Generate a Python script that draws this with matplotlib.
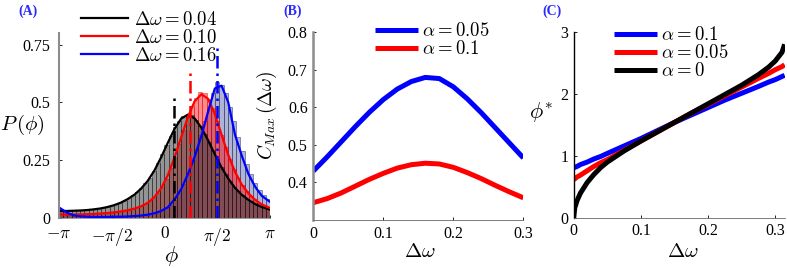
import numpy as np
import matplotlib
matplotlib.use('Agg')
import matplotlib.pyplot as plt

plt.rcParams['mathtext.fontset'] = 'cm'
plt.rcParams['font.family'] = ['Liberation Serif', 'DejaVu Serif']

# ---------------- Panel A data ----------------
n_bins = 50
black_hist = [0.031, 0.032, 0.031, 0.033, 0.033, 0.035, 0.035, 0.037, 0.039, 0.041,
              0.045, 0.048, 0.053, 0.058, 0.066, 0.074, 0.085, 0.097, 0.111, 0.129,
              0.150, 0.174, 0.203, 0.237, 0.276, 0.314, 0.355, 0.392, 0.420, 0.440,
              0.450, 0.443, 0.425, 0.398, 0.365, 0.330, 0.292, 0.255, 0.220, 0.188,
              0.160, 0.135, 0.115, 0.097, 0.083, 0.071, 0.060, 0.052, 0.045, 0.040]
red_hist = [0.015, 0.015, 0.014, 0.015, 0.015, 0.016, 0.016, 0.017, 0.018, 0.019,
            0.020, 0.022, 0.023, 0.026, 0.028, 0.031, 0.035, 0.039, 0.045, 0.051,
            0.060, 0.072, 0.088, 0.108, 0.135, 0.170, 0.215, 0.265, 0.320, 0.380,
            0.440, 0.485, 0.520, 0.545, 0.540, 0.515, 0.475, 0.420, 0.360, 0.305,
            0.255, 0.210, 0.172, 0.142, 0.117, 0.096, 0.080, 0.066, 0.056, 0.047]
blue_hist = [0.038, 0.024, 0.015, 0.010, 0.008, 0.006, 0.005, 0.005, 0.004, 0.004,
             0.004, 0.004, 0.005, 0.005, 0.005, 0.006, 0.007, 0.008, 0.009, 0.011,
             0.013, 0.016, 0.020, 0.025, 0.032, 0.042, 0.056, 0.078, 0.108, 0.148,
             0.195, 0.245, 0.300, 0.360, 0.420, 0.480, 0.540, 0.590, 0.575, 0.540,
             0.480, 0.420, 0.350, 0.290, 0.235, 0.190, 0.152, 0.120, 0.098, 0.080]

curve_phi = [-3.14, -2.9, -2.7, -2.5, -2.3, -2.1, -1.9, -1.7, -1.5, -1.3, -1.1, -0.9,
             -0.7, -0.5, -0.3, -0.1, 0.1, 0.3, 0.5, 0.7, 0.9, 1.1, 1.3, 1.5, 1.7, 1.9,
             2.1, 2.3, 2.5, 2.7, 2.9, 3.14]
black_curve = [0.030, 0.030, 0.031, 0.032, 0.034, 0.037, 0.041, 0.047, 0.055, 0.066,
               0.081, 0.100, 0.126, 0.160, 0.205, 0.262, 0.325, 0.385, 0.430, 0.447,
               0.430, 0.390, 0.335, 0.275, 0.218, 0.170, 0.130, 0.100, 0.078, 0.060,
               0.047, 0.036]
red_curve = [0.016, 0.014, 0.014, 0.015, 0.016, 0.017, 0.019, 0.021, 0.024, 0.028,
             0.033, 0.040, 0.050, 0.065, 0.090, 0.128, 0.185, 0.262, 0.350, 0.437,
             0.505, 0.535, 0.515, 0.450, 0.360, 0.272, 0.200, 0.145, 0.106, 0.078,
             0.058, 0.043]
blue_curve = [0.045, 0.022, 0.011, 0.007, 0.005, 0.004, 0.004, 0.004, 0.005, 0.005,
              0.006, 0.008, 0.010, 0.014, 0.020, 0.030, 0.046, 0.080, 0.125, 0.190,
              0.265, 0.355, 0.460, 0.560, 0.572, 0.500, 0.360, 0.270, 0.190, 0.135,
              0.095, 0.070]
a_labels = [r'$\Delta\omega=0.04$', r'$\Delta\omega=0.10$', r'$\Delta\omega=0.16$']
phi_star = [0.27, 0.76, 1.57]
phi_star_top = [0.53, 0.63, 0.74]

# ---------------- Panel B data ----------------
dw_b = [0.0, 0.02, 0.04, 0.06, 0.08, 0.10, 0.12, 0.14, 0.16, 0.18, 0.20, 0.22, 0.24,
        0.26, 0.28, 0.30]
cmax_a005 = [0.430, 0.468, 0.508, 0.548, 0.586, 0.620, 0.648, 0.668, 0.679, 0.676,
             0.654, 0.622, 0.585, 0.545, 0.505, 0.465]
cmax_a01 = [0.346, 0.357, 0.372, 0.390, 0.408, 0.424, 0.438, 0.447, 0.451, 0.449,
            0.440, 0.426, 0.410, 0.392, 0.375, 0.359]
b_labels = [r'$\alpha=0.05$', r'$\alpha=0.1$']

# ---------------- Panel C data ----------------
dw_c = [0.0, 0.0015, 0.005, 0.01, 0.02, 0.03, 0.04, 0.05, 0.075, 0.1, 0.125, 0.15, 0.175,
        0.2, 0.225, 0.25, 0.275, 0.29, 0.3, 0.31, 0.314]
phi_a01 = [0.81, 0.815, 0.83, 0.86, 0.90, 0.95, 0.99, 1.04, 1.16, 1.28, 1.41, 1.54, 1.66,
           1.78, 1.90, 2.01, 2.12, 2.19, 2.23, 2.28, 2.30]
phi_a005 = [0.62, 0.63, 0.66, 0.69, 0.76, 0.83, 0.89, 0.94, 1.09, 1.24, 1.39, 1.54, 1.69,
            1.83, 1.97, 2.11, 2.25, 2.33, 2.39, 2.44, 2.47]
phi_a0 = [0.0, 0.16, 0.28, 0.40, 0.57, 0.70, 0.81, 0.90, 1.08, 1.24, 1.39, 1.54, 1.69,
          1.84, 1.99, 2.14, 2.31, 2.43, 2.53, 2.67, 2.80]
c_labels = [r'$\alpha=0.1$', r'$\alpha=0.05$', r'$\alpha=0$']

fig = plt.figure(figsize=(7.87, 2.68), dpi=100)

tick_fs = 11.5
leg_fs = 13.5

# ---------------- Panel A ----------------
axA = fig.add_axes([0.075, 0.187, 0.268, 0.690])
edges = np.linspace(-np.pi, np.pi, n_bins + 1)
width = edges[1] - edges[0]
centers = edges[:-1] + width / 2
axA.bar(centers, blue_hist, width=width, facecolor=(0.30, 0.35, 0.65, 0.45),
        edgecolor=(0.1, 0.1, 0.3, 0.6), linewidth=0.5)
axA.bar(centers, red_hist, width=width, facecolor=(1.0, 0.0, 0.0, 0.45),
        edgecolor=(0.85, 0.0, 0.0, 0.6), linewidth=0.5)
axA.bar(centers, black_hist, width=width, facecolor=(0.24, 0.24, 0.24, 0.55),
        edgecolor=(0.05, 0.05, 0.05, 0.6), linewidth=0.5)
cols = ['black', 'red', 'blue']
for yv, c, lab in zip([black_curve, red_curve, blue_curve], cols, a_labels):
    axA.plot(curve_phi, yv, color=c, lw=1.6, label=lab)
for xv, top, c in zip(phi_star, phi_star_top, cols):
    axA.plot([xv, xv], [0, top], color=c, lw=1.8, linestyle=(0, (5, 2, 1, 2)))
axA.set_xlim(-np.pi, np.pi)
axA.set_ylim(0, 0.8)
axA.set_xticks([-np.pi, -np.pi / 2, 0, np.pi / 2, np.pi])
axA.set_xticklabels([r'$-\pi$', r'$-\pi/2$', r'$0$', r'$\pi/2$', r'$\pi$'], fontsize=12.5)
axA.set_yticks([0, 0.25, 0.5, 0.75])
axA.set_yticklabels(['0', '0.25', '0.5', '0.75'], fontsize=tick_fs)
axA.tick_params(axis='x', direction='in', length=2, width=0.6, pad=6)
axA.tick_params(axis='y', direction='in', length=2, width=0.6, pad=6)
axA.spines['top'].set_visible(False)
axA.spines['right'].set_visible(False)
axA.spines['left'].set_color('0.55')
axA.spines['left'].set_linewidth(1.5)
axA.spines['bottom'].set_color('0.55')
axA.spines['bottom'].set_linewidth(0.6)
axA.legend(loc='upper left', bbox_to_anchor=(0.07, 1.16), frameon=False, fontsize=leg_fs,
           handlelength=2.5, handletextpad=0.3, labelspacing=0.0, borderaxespad=0)
fig.text(0.029, 0.534, r'$P\,(\phi)$', fontsize=15, ha='center', va='center')
fig.text(0.218, 0.045, r'$\phi$', fontsize=16, ha='center', va='center')
fig.text(0.035, 0.958, '(A)', fontsize=10, color='#2a2aff', fontweight='bold',
         ha='center', va='center')

# ---------------- Panel B ----------------
axB = fig.add_axes([0.398, 0.179, 0.267, 0.702])
axB.plot(dw_b, cmax_a005, color='blue', lw=3.6, label=b_labels[0], solid_capstyle='butt')
axB.plot(dw_b, cmax_a01, color='red', lw=3.6, label=b_labels[1], solid_capstyle='butt')
axB.set_xlim(0, 0.3)
axB.set_ylim(0.3, 0.8)
axB.set_xticks([0, 0.1, 0.2, 0.3])
axB.set_xticklabels(['0', '0.1', '0.2', '0.3'], fontsize=tick_fs)
axB.set_yticks([0.4, 0.5, 0.6, 0.7, 0.8])
axB.set_yticklabels(['0.4', '0.5', '0.6', '0.7', '0.8'], fontsize=tick_fs)
axB.tick_params(direction='in', length=2, width=0.6, pad=4)
axB.spines['top'].set_visible(False)
axB.spines['right'].set_visible(False)
axB.spines['left'].set_color('0.55')
axB.spines['left'].set_linewidth(1.8)
axB.spines['bottom'].set_color('0.4')
axB.spines['bottom'].set_linewidth(0.6)
axB.legend(loc='upper left', bbox_to_anchor=(0.26, 1.09), frameon=False, fontsize=leg_fs,
           handlelength=2.3, handletextpad=0.2, labelspacing=0.0, borderaxespad=0)
fig.text(0.339, 0.57, r'$C_{Max}\,(\Delta\omega)$', fontsize=14, rotation=90,
         ha='center', va='center')
fig.text(0.534, 0.056, r'$\Delta\omega$', fontsize=15, ha='center', va='center')
fig.text(0.372, 0.958, '(B)', fontsize=10, color='#2a2aff', fontweight='bold',
         ha='center', va='center')

# ---------------- Panel C ----------------
axC = fig.add_axes([0.729, 0.187, 0.268, 0.694])
for yv, c, lab in zip([phi_a01, phi_a005, phi_a0], ['blue', 'red', 'black'], c_labels):
    axC.plot(dw_c, yv, color=c, lw=3.6, label=lab, solid_capstyle='butt')
axC.set_xlim(0, 0.314)
axC.set_ylim(0, 3)
axC.set_xticks([0, 0.1, 0.2, 0.3])
axC.set_xticklabels(['0', '0.1', '0.2', '0.3'], fontsize=tick_fs)
axC.set_yticks([0, 1, 2, 3])
axC.set_yticklabels(['0', '1', '2', '3'], fontsize=tick_fs)
axC.tick_params(direction='in', length=2, width=0.6, pad=4)
axC.spines['top'].set_visible(False)
axC.spines['right'].set_visible(False)
axC.spines['left'].set_color('black')
axC.spines['left'].set_linewidth(1.0)
axC.spines['bottom'].set_color('0.4')
axC.spines['bottom'].set_linewidth(0.6)
axC.legend(loc='upper left', bbox_to_anchor=(0.155, 1.07), frameon=False, fontsize=leg_fs,
           handlelength=2.3, handletextpad=0.2, labelspacing=0.0, borderaxespad=0)
fig.text(0.688, 0.578, r'$\phi^{*}$', fontsize=16, ha='center', va='center')
fig.text(0.868, 0.056, r'$\Delta\omega$', fontsize=15, ha='center', va='center')
fig.text(0.701, 0.958, '(C)', fontsize=10, color='#2a2aff', fontweight='bold',
         ha='center', va='center')

fig.savefig('out.png', dpi=100)
